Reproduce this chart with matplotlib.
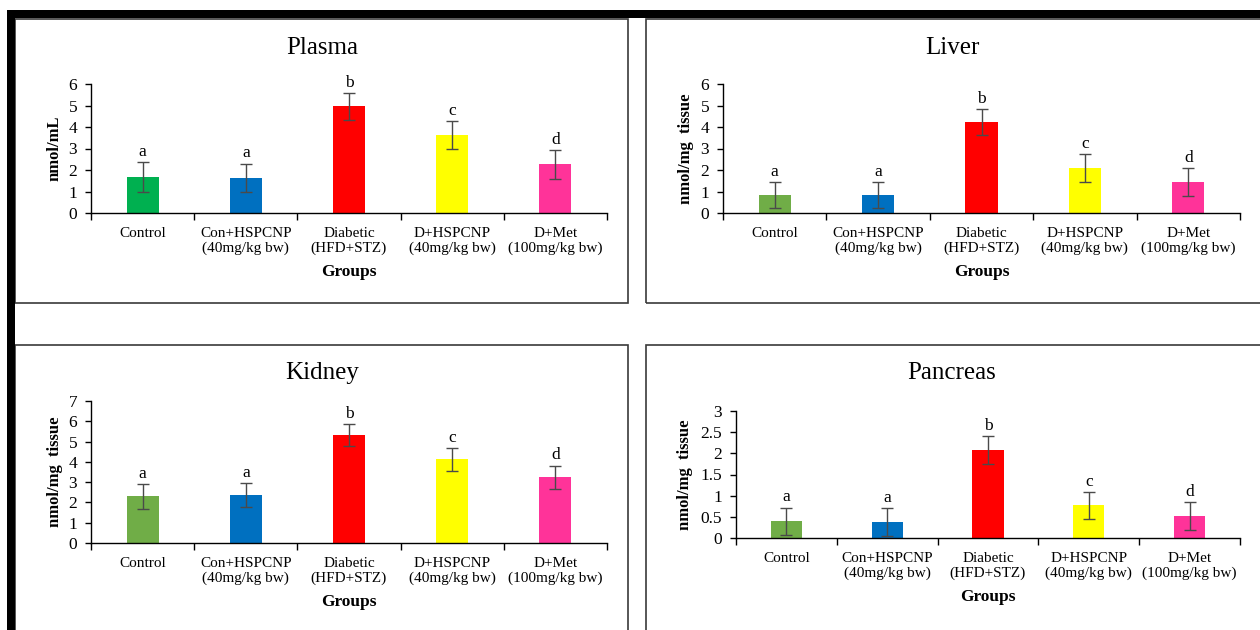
import numpy as np
import matplotlib.pyplot as plt
from matplotlib.patches import Rectangle
from matplotlib.ticker import FormatStrFormatter, FixedLocator

plt.rcParams['font.family'] = ['Liberation Serif', 'DejaVu Serif']

# ─────────────────────────────────────────
# 1. DATA
# ─────────────────────────────────────────
groups = ['Control', 'Con+HSPCNP\n(40mg/kg bw)', 'Diabetic\n(HFD+STZ)',
          'D+HSPCNP\n(40mg/kg bw)', 'D+Met\n(100mg/kg bw)']
letters = ['a', 'a', 'b', 'c', 'd']

plasma_mean = [1.68, 1.65, 4.97, 3.63, 2.26]
plasma_err  = [0.69, 0.65, 0.63, 0.65, 0.67]

liver_mean = [0.85, 0.85, 4.24, 2.10, 1.45]
liver_err  = [0.60, 0.60, 0.61, 0.64, 0.65]

kidney_mean = [2.30, 2.37, 5.32, 4.12, 3.25]
kidney_err  = [0.60, 0.58, 0.55, 0.58, 0.57]

pancreas_mean = [0.40, 0.38, 2.08, 0.77, 0.52]
pancreas_err  = [0.32, 0.33, 0.33, 0.32, 0.33]

colors_plasma = ['#00B050', '#0070C0', '#FF0000', '#FFFF00', '#FF3399']
colors_other  = ['#70AD47', '#0070C0', '#FF0000', '#FFFF00', '#FF3399']

W, H = 1260, 630

# panel: title, means, errs, colors, ylabel, ymax, ystep, axes box (px), title pos (px), ylabel x
panels = [
    ('Plasma', plasma_mean, plasma_err, colors_plasma, 'nmol/mL', 6, 1,
     (91, 213, 607, 84), (322, 48), 63),
    ('Liver', liver_mean, liver_err, colors_other, 'nmol/mg  tissue', 6, 1,
     (723, 213, 1240, 84), (952, 48), 694),
    ('Kidney', kidney_mean, kidney_err, colors_other, 'nmol/mg  tissue', 7, 1,
     (91, 543, 607, 401), (322, 373), 63),
    ('Pancreas', pancreas_mean, pancreas_err, colors_other, 'nmol/mg  tissue', 3, 0.5,
     (736, 538, 1240, 411), (952, 373), 693),
]

# ─────────────────────────────────────────
# 2. FIGURE + FRAMES
# ─────────────────────────────────────────
fig = plt.figure(figsize=(W / 100, H / 100), dpi=100)

def px_rect(x0, y0, x1, y1, **kw):
    return Rectangle((x0 / W, 1 - y1 / H), (x1 - x0) / W, (y1 - y0) / H,
                     transform=fig.transFigure, **kw)

# panel boxes
for x0, y0, x1, y1 in [(15, 19, 628, 303), (646, 19, 1265, 303),
                       (15, 345, 628, 640), (646, 345, 1265, 640)]:
    fig.add_artist(px_rect(x0, y0, x1, y1, fill=False, edgecolor='#3a3a3a', lw=1.2))

# thick black border top and left
fig.add_artist(px_rect(7, 10, 1265, 18, color='black', lw=0))
fig.add_artist(px_rect(7, 10, 15, 640, color='black', lw=0))

# ─────────────────────────────────────────
# 3. BAR CHARTS
# ─────────────────────────────────────────
x = np.arange(len(groups))

for (title, mean, err, cols, ylab, ymax, ystep,
     (ax0, ay0, ax1, ay1), (tx, ty), ylx) in panels:
    ax = fig.add_axes([ax0 / W, 1 - ay0 / H, (ax1 - ax0) / W, (ay0 - ay1) / H])
    ax.bar(x, mean, width=0.31, color=cols, edgecolor='none', zorder=2)
    ax.errorbar(x, mean, yerr=err, fmt='none', ecolor='#4a4a4a',
                elinewidth=1, capsize=4, capthick=1, zorder=3)
    for xi, m, e, l in zip(x, mean, err, letters):
        ax.annotate(l, (xi, m + e), xytext=(0, 1.5), textcoords='offset points',
                    ha='center', va='bottom', fontsize=12.5)

    ax.set_xlim(-0.5, len(groups) - 0.5)
    ax.set_ylim(0, ymax)
    ax.set_yticks(np.arange(0, ymax + ystep / 2, ystep))
    ax.yaxis.set_major_formatter(FormatStrFormatter('%g'))
    ax.set_xticks(x)
    ax.set_xticklabels(groups, fontsize=11, linespacing=1.2)
    ax.xaxis.set_minor_locator(FixedLocator(np.arange(-0.5, len(groups), 1)))
    ax.tick_params(axis='x', which='major', length=0, pad=10)
    ax.tick_params(axis='x', which='minor', length=5, direction='out', width=1)
    ax.tick_params(axis='y', length=4, direction='out', width=1, labelsize=12.5, pad=6)

    for s in ['top', 'right']:
        ax.spines[s].set_visible(False)
    for s in ['left', 'bottom']:
        ax.spines[s].set_linewidth(1)

    ax.set_ylabel(ylab, fontsize=12, fontweight='bold')
    ax.yaxis.set_label_coords((ylx - ax0) / (ax1 - ax0), 0.5)
    ax.set_xlabel('Groups', fontsize=12.5, fontweight='bold', labelpad=6)

    fig.text(tx / W, 1 - ty / H, title, ha='center', va='center', fontsize=18)

plt.savefig('out.png', dpi=100)
